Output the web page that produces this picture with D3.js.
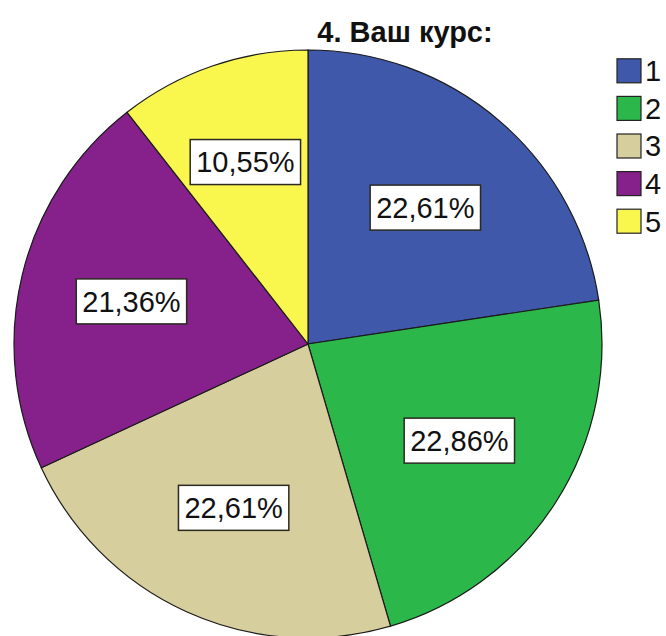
<!DOCTYPE html>
<html><head><meta charset="utf-8">
<script src="https://cdn.jsdelivr.net/npm/d3@7"></script>
<style>body{margin:0;background:#fff}svg{display:block}text{font-family:"Liberation Sans",Arial,sans-serif}</style>
</head><body>
<svg id="c" width="666" height="636"></svg>
<script>
const title = "4. Ваш курс:";
const categories = ["1","2","3","4","5"];
const values = [22.61, 22.86, 22.61, 21.36, 10.55];
const labels = ["22,61%","22,86%","22,61%","21,36%","10,55%"];
const colors = ["#3f58a9","#2bb74a","#d7ce9d","#86208a","#f9f64e"];

const svg = d3.select("#c");
const cx = 308, cy = 344, R = 294;

const pie = d3.pie().sort(null).value(d => d.v);
const data = categories.map((c,i)=>({c, v: values[i], l: labels[i], col: colors[i]}));
const arcs = pie(data);
const arc = d3.arc().innerRadius(0).outerRadius(R);

const g = svg.append("g").attr("transform", `translate(${cx},${cy})`);
g.selectAll("path").data(arcs).join("path")
  .attr("d", arc).attr("fill", d => d.data.col)
  .attr("stroke", "#1b1b1b").attr("stroke-width", 1.2);

// labels at geometric centroid of each sector
const lg = g.selectAll("g.lab").data(arcs).join("g").attr("class","lab")
  .attr("transform", d => {
    const th = d.endAngle - d.startAngle;
    const rho = 2*R*Math.sin(th/2)/(1.5*th);
    const a = (d.startAngle + d.endAngle)/2;
    return `translate(${rho*Math.sin(a)},${-rho*Math.cos(a)})`;
  });
lg.each(function(d){
  const s = d3.select(this);
  const t = s.append("text").attr("text-anchor","middle").attr("dy","0.36em")
    .attr("font-size", 29).attr("fill","#111").text(d.data.l);
  const bb = t.node().getBBox();
  s.insert("rect","text").attr("x", bb.x-6).attr("y", -22.5)
    .attr("width", bb.width+12).attr("height", 45)
    .attr("fill","#fff").attr("stroke","#2a2a20").attr("stroke-width",1.5);
});

// title
svg.append("text").attr("x", 405).attr("y", 42).attr("text-anchor","middle")
  .attr("font-size", 29).attr("font-weight","bold").attr("fill","#111").text(title);

// legend
const ly = d3.scaleBand().domain(categories).range([52, 240]);
const leg = svg.append("g");
const li = leg.selectAll("g").data(data).join("g")
  .attr("transform", d => `translate(617,${ly(d.c)+ly.bandwidth()/2})`);
li.append("rect").attr("x",0).attr("y",-12).attr("width",24).attr("height",24)
  .attr("fill", d=>d.col).attr("stroke","#222").attr("stroke-width",1.2);
li.append("text").attr("x",28).attr("dy","0.36em").attr("font-size",29)
  .attr("fill","#111").text(d=>d.c);
</script>
</body></html>
